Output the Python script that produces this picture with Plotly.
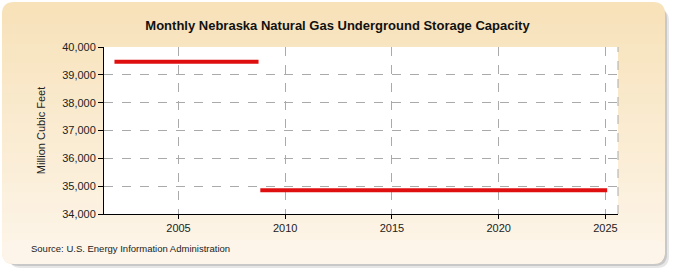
import plotly.graph_objects as go

# ---- data ----
series1_start = (2002, 1)
series1_end = (2008, 10)
series1_value = 39469
series2_start = (2008, 11)
series2_end = (2025, 2)
series2_value = 34850

y_ticks = [34000, 35000, 36000, 37000, 38000, 39000, 40000]
x_ticks = [2005, 2010, 2015, 2020, 2025]


def months(start, end):
    out = []
    y, m = start
    while (y, m) <= end:
        out.append(y + (m - 1) / 12)
        m += 1
        if m > 12:
            m = 1
            y += 1
    return out


x1 = months(series1_start, series1_end)
x2 = months(series2_start, series2_end)
y1 = [series1_value] * len(x1)
y2 = [series2_value] * len(x2)

W, H = 675, 275
L, R, T, B = 104, 57, 47, 61
pw = W - L - R
ph = H - T - B

fig = go.Figure()
line_style = dict(color="#E00F0F", width=4)
fig.add_trace(go.Scatter(x=x1, y=y1, mode="lines", line=line_style, hoverinfo="skip"))
fig.add_trace(go.Scatter(x=x2, y=y2, mode="lines", line=line_style, hoverinfo="skip"))


def path_px(x0, y0, x1_, y1_, r):
    def fx(p):
        return (p - L) / pw

    def fy(p):
        return (H - B - p) / ph

    rx = r / pw
    ry = r / ph
    X0, X1, Y0, Y1 = fx(x0), fx(x1_), fy(y0), fy(y1_)
    return (f"M {X0+rx},{Y0} L {X1-rx},{Y0} Q {X1},{Y0} {X1},{Y0-ry} "
            f"L {X1},{Y1+ry} Q {X1},{Y1} {X1-rx},{Y1} L {X0+rx},{Y1} "
            f"Q {X0},{Y1} {X0},{Y1+ry} L {X0},{Y0-ry} Q {X0},{Y0} {X0+rx},{Y0} Z")


shapes = []
# drop shadow
for off, col in [(7, "#e6e6e6"), (5, "#c8c8c8"), (3, "#a8a8a8")]:
    shapes.append(dict(type="path", xref="paper", yref="paper", layer="below",
                       path=path_px(2 + off, 2 + off, 665 + off - 3, 264 + off - 3, 12),
                       line=dict(width=0), fillcolor=col))
# main panel with vertical gradient approximation
top_col = (247, 226, 186)
bot_col = (253, 245, 233)
shapes.append(dict(type="path", xref="paper", yref="paper", layer="below",
                   path=path_px(2, 2, 665, 264, 12), line=dict(width=0),
                   fillcolor="rgb(%d,%d,%d)" % top_col))
n = 24
y_start, y_end = 14, 252
for i in range(n):
    t = (i + 0.5) / n
    c = tuple(round(top_col[k] + (bot_col[k] - top_col[k]) * t) for k in range(3))
    ya = y_start + (y_end - y_start) * i / n
    yb = y_start + (y_end - y_start) * (i + 1) / n + 0.5
    shapes.append(dict(type="rect", xref="paper", yref="paper", layer="below",
                       x0=(2 - L) / pw, x1=(665 - L) / pw,
                       y0=(H - B - yb) / ph, y1=(H - B - ya) / ph,
                       line=dict(width=0), fillcolor="rgb(%d,%d,%d)" % c))
shapes.append(dict(type="path", xref="paper", yref="paper", layer="below",
                   path=path_px(2, 240, 665, 264, 12), line=dict(width=0),
                   fillcolor="rgb(%d,%d,%d)" % bot_col))
# plot area white
shapes.append(dict(type="rect", xref="paper", yref="paper", layer="below",
                   x0=0, x1=1, y0=0, y1=1, line=dict(width=0), fillcolor="white"))
# dashed right border of plot area
shapes.append(dict(type="line", xref="paper", yref="paper", layer="below",
                   x0=1, x1=1, y0=0, y1=1,
                   line=dict(color="#aaaaaa", width=1, dash="dash")))

fig.update_layout(
    width=W, height=H,
    margin=dict(l=L, r=R, t=T, b=B),
    paper_bgcolor="white",
    plot_bgcolor="rgba(0,0,0,0)",
    showlegend=False,
    shapes=shapes,
    font=dict(family="Liberation Sans, Arial, sans-serif", size=11, color="#222222"),
    title=dict(text="<b>Monthly Nebraska Natural Gas Underground Storage Capacity</b>",
               x=0.5, xref="container", xanchor="center",
               y=1 - 25 / H, yref="container", yanchor="middle",
               font=dict(size=13, color="#111111")),
    xaxis=dict(range=[2001.51, 2025.59], tickvals=x_ticks,
               showgrid=True, gridcolor="#aaaaaa", griddash="dash", gridwidth=1,
               showline=True, linecolor="#000000", linewidth=1,
               ticks="outside", ticklen=4, tickcolor="#000000",
               zeroline=False, tickfont=dict(size=11, color="#222222")),
    yaxis=dict(range=[34000, 40000], tickvals=y_ticks, tickformat=",",
               showgrid=True, gridcolor="#aaaaaa", griddash="dash", gridwidth=1,
               showline=True, linecolor="#000000", linewidth=1,
               ticks="outside", ticklen=5, tickcolor="#000000",
               zeroline=False, tickfont=dict(size=11, color="#222222"),
               title=dict(text="Million Cubic Feet", standoff=14,
                          font=dict(size=11, color="#222222"))),
    annotations=[dict(text="Source: U.S. Energy Information Administration",
                      xref="paper", yref="paper",
                      x=(29 - L) / pw, y=(H - B - 248) / ph,
                      xanchor="left", yanchor="middle", showarrow=False,
                      font=dict(size=9.5, color="#222222"))],
)

fig.write_html("out.html")
